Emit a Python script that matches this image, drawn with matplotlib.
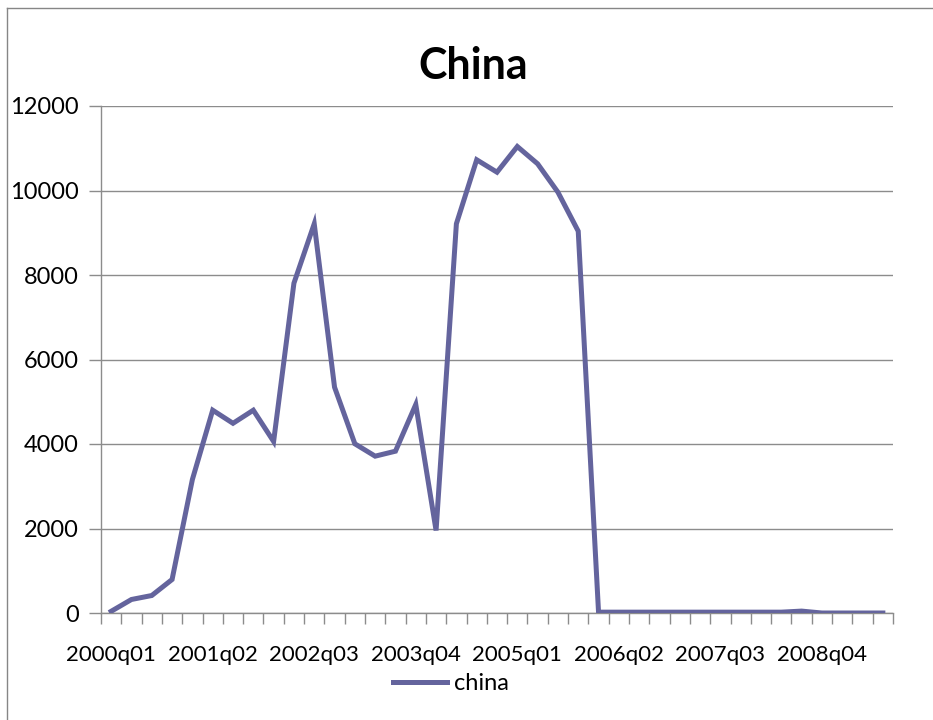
import matplotlib
matplotlib.use("Agg")
import matplotlib.pyplot as plt
from matplotlib.lines import Line2D

quarters = [
    "2000q01", "2000q02", "2000q03", "2000q04",
    "2001q01", "2001q02", "2001q03", "2001q04",
    "2002q01", "2002q02", "2002q03", "2002q04",
    "2003q01", "2003q02", "2003q03", "2003q04",
    "2004q01", "2004q02", "2004q03", "2004q04",
    "2005q01", "2005q02", "2005q03", "2005q04",
    "2006q01", "2006q02", "2006q03", "2006q04",
    "2007q01", "2007q02", "2007q03", "2007q04",
    "2008q01", "2008q02", "2008q03", "2008q04",
    "2009q01", "2009q02", "2009q03",
]
china = [
    40, 320, 414, 793, 3160, 4800, 4490, 4800, 4060, 7806,
    9212, 5345, 4005, 3712, 3830, 4935, 1953, 9212, 10727, 10433,
    11041, 10632, 9960, 9037, 20, 20, 20, 20, 20, 20,
    20, 20, 20, 20, 45, 0, 0, 0, 0,
]
yticks = [0, 2000, 4000, 6000, 8000, 10000, 12000]

plt.rcParams['font.family'] = ['Lato', 'DejaVu Sans']

W, H = 933, 720
fig = plt.figure(figsize=(W / 100, H / 100), dpi=100)
ax = fig.add_axes([101 / W, 1 - 613 / H, (893 - 101) / W, (613 - 106) / H])

line_color = '#64649d'
grid_color = '#8c8c8c'
x = list(range(len(china)))
ln, = ax.plot(x, china, color=line_color, lw=3.6, solid_joinstyle='miter', zorder=3)

ax.set_xlim(-0.5, len(china) - 0.5)
ax.set_ylim(0, 12000)
ax.set_yticks(yticks)
ax.set_yticklabels([str(v) for v in yticks])
ax.yaxis.grid(True, color=grid_color, lw=1)
ax.set_axisbelow(True)

major = list(range(0, len(china), 5))
ax.set_xticks(major)
ax.set_xticklabels([quarters[i] for i in major])
ax.set_xticks([i - 0.5 for i in range(len(china) + 1)], minor=True)
ax.tick_params(axis='x', which='major', length=0, pad=23, labelsize=16)
ax.tick_params(axis='x', which='minor', length=8, color=grid_color, width=1)
ax.tick_params(axis='y', length=9, color=grid_color, width=1, pad=7, labelsize=17)

for s in ['top', 'right']:
    ax.spines[s].set_visible(False)
for s in ['left', 'bottom']:
    ax.spines[s].set_color(grid_color)
    ax.spines[s].set_linewidth(1)

fig.text(473 / W, 1 - 66 / H, "China", ha='center', va='center',
         fontsize=31, fontweight='bold')

fig.legend([ln], ["china"], loc='center', bbox_to_anchor=(451 / W, 1 - 684 / H),
           frameon=False, fontsize=17, handlelength=2.3, handletextpad=0.3)

# chart-area border (left and top visible)
fig.add_artist(Line2D([7.5 / W, 7.5 / W], [0, 1 - 8 / H], color='#868686', lw=1,
                      transform=fig.transFigure))
fig.add_artist(Line2D([7.5 / W, 1], [1 - 8 / H, 1 - 8 / H], color='#868686', lw=1,
                      transform=fig.transFigure))

fig.savefig("out.png", dpi=100, facecolor='white')
